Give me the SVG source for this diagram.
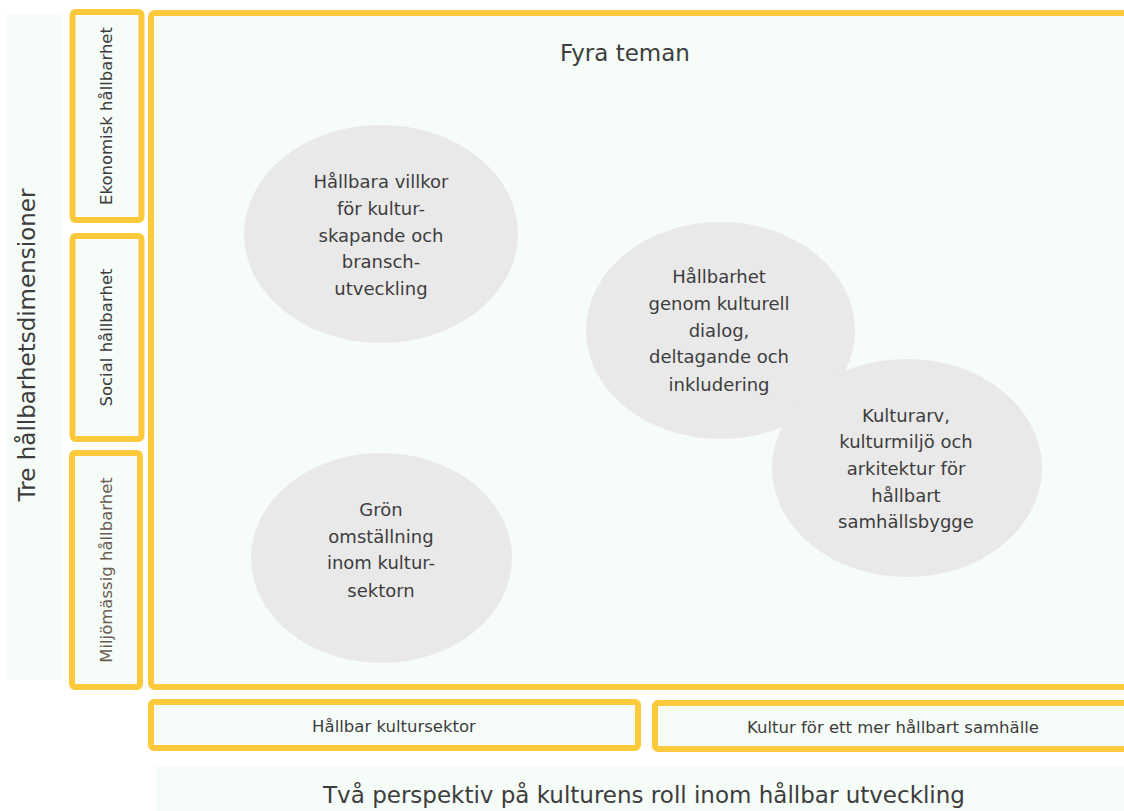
<svg xmlns="http://www.w3.org/2000/svg" width="1124" height="811" viewBox="0 0 1124 811">
<style>
.panel{fill:#f6fcf8}
.box{fill:#f6fcf8;stroke:#ffc93c;stroke-width:6}
.ell{fill:#e9e9e9}
text{font-family:"DejaVu Sans","Liberation Sans",sans-serif;fill:#3d3d3d;text-anchor:middle}
.big{font-size:23px}
.lbl{font-size:16.5px}
.et{font-size:18px}
.brown{fill:#6b5d52}
</style>
<rect width="1124" height="811" fill="#ffffff"/>
<g id="left-panel">
<rect class="panel" x="7" y="14" width="55" height="666"/>
<text class="big" transform="translate(35,345) rotate(-90)">Tre hållbarhetsdimensioner</text>
</g>
<g id="bottom-panel">
<rect class="panel" x="156" y="766" width="980" height="50"/>
<text class="big" x="644" y="803">Två perspektiv på kulturens roll inom hållbar utveckling</text>
</g>
<g id="ekonomisk">
<rect class="box" x="72.5" y="12" width="69" height="208" rx="3"/>
<text class="lbl" transform="translate(112,116) rotate(-90)">Ekonomisk hållbarhet</text>
</g>
<g id="social">
<rect class="box" x="72.5" y="236" width="69" height="203" rx="3"/>
<text class="lbl" transform="translate(112,337.5) rotate(-90)">Social hållbarhet</text>
</g>
<g id="miljo">
<rect class="box" x="72" y="453" width="68" height="234" rx="3"/>
<text class="lbl brown" transform="translate(112,570) rotate(-90)">Miljömässig hållbarhet</text>
</g>
<g id="main">
<rect class="box" x="151" y="13" width="1000" height="674" rx="4"/>
<text class="big" x="625" y="61">Fyra teman</text>
</g>
<g id="tema1">
<ellipse class="ell" cx="381" cy="234" rx="137" ry="109"/>
<text class="et" x="381" y="188">Hållbara villkor</text>
<text class="et" x="381" y="215">för kultur-</text>
<text class="et" x="381" y="242">skapande och</text>
<text class="et" x="381" y="268">bransch-</text>
<text class="et" x="381" y="295">utveckling</text>
</g>
<g id="tema2">
<ellipse class="ell" cx="720.5" cy="330.5" rx="134.5" ry="108.5"/>
<text class="et" x="719" y="283">Hållbarhet</text>
<text class="et" x="719" y="310">genom kulturell</text>
<text class="et" x="719" y="337">dialog,</text>
<text class="et" x="719" y="363">deltagande och</text>
<text class="et" x="719" y="391">inkludering</text>
</g>
<g id="tema3">
<ellipse class="ell" cx="907" cy="468" rx="135" ry="109"/>
<text class="et" x="906" y="422">Kulturarv,</text>
<text class="et" x="906" y="448">kulturmiljö och</text>
<text class="et" x="906" y="475">arkitektur för</text>
<text class="et" x="906" y="502">hållbart</text>
<text class="et" x="906" y="528">samhällsbygge</text>
</g>
<g id="tema4">
<ellipse class="ell" cx="381.5" cy="558" rx="130.5" ry="105"/>
<text class="et" x="381" y="516">Grön</text>
<text class="et" x="381" y="543">omställning</text>
<text class="et" x="381" y="569">inom kultur-</text>
<text class="et" x="381" y="597">sektorn</text>
</g>
<g id="hallbar-kultursektor">
<rect class="box" x="151" y="702" width="487" height="46" rx="3"/>
<text class="lbl" x="394" y="732">Hållbar kultursektor</text>
</g>
<g id="kultur-for-samhalle">
<rect class="box" x="655" y="703" width="480" height="46" rx="3"/>
<text class="lbl" x="893" y="733">Kultur för ett mer hållbart samhälle</text>
</g>
<g id="connectors"/>
</svg>
